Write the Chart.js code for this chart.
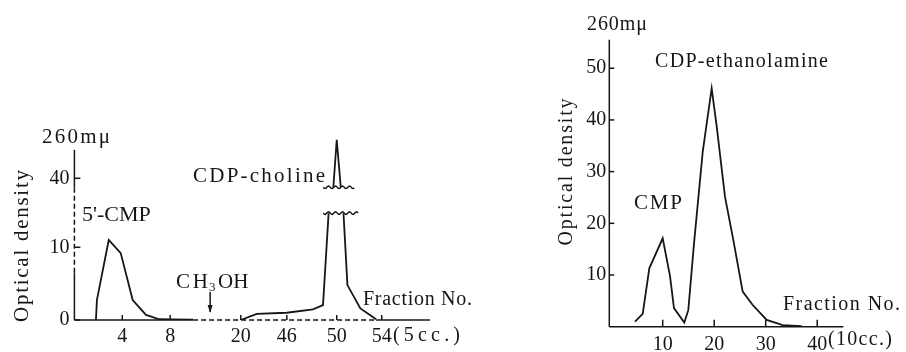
<!DOCTYPE html>
<html>
<head>
<meta charset="utf-8">
<script src="https://cdn.jsdelivr.net/npm/chart.js@4.4.0/dist/chart.umd.min.js"></script>
<style>
  html, body { margin: 0; padding: 0; background: #fff; }
  #wrap { position: relative; width: 906px; height: 352px; overflow: hidden; }
  .box { position: absolute; top: 0; height: 352px; }
  #leftBox { left: 0; width: 540px; }
  #rightBox { left: 540px; width: 366px; }
</style>
</head>
<body>
<div id="wrap">
  <div class="box" id="leftBox"><canvas id="cholineChart"></canvas></div>
  <div class="box" id="rightBox"><canvas id="ethanolamineChart"></canvas></div>
</div>
<script>
// ---- left figure: 5'-CMP / CDP-choline (5 cc fractions), both axes broken ----
const cholineFrac = [1.8, 1.88, 2.87, 3.87, 4.87, 5.98, 7.09, 8.0, 11.9, 16, 20, 29, 45.9, 48.1, 48.9, 49.35, 50, 50.6, 50.95, 52.1, 53.5];
const cholineOD   = [0, 2.75, 11.0, 9.2, 2.75, 0.7, 0.1, 0.07, 0.05, null, 0, 0.83, 1.0, 1.47, 2.06, 14.7, null, 14.7, 4.8, 1.6, 0.1];
// top of the CDP-choline peak, drawn above the break
const peakFrac = [49.73, 50.0, 50.36];
const peakOD   = [38.76, 45.3, 38.76];

const leftXTicks = [4, 8, 20, 46, 50, 54];
const leftYTicks = [0, 10, 40];

// broken axes: real value -> position along the drawn axis
const xRealKnots = [0, 8, 20, 46, 50, 54];
const xAxisKnots = [0, 8.1, 14.07, 17.97, 22.19, 26.0];
const yRealKnots = [0, 14.7, 38.76, 60];
const yAxisKnots = [0, 14.7, 18.25, 39.49];

// ---- right figure: CMP / CDP-ethanolamine (10 cc fractions) ----
const ethFrac = [4.62, 6.12, 7.4, 10.0, 11.42, 12.19, 14.19, 14.97, 16.08, 17.77, 19.51, 20.49, 22.1, 23.71, 25.53, 27.48, 30.19, 33.3, 36.99];
const ethOD   = [1.0, 2.5, 11.3, 17.1, 9.8, 3.6, 0.8, 3.2, 16.1, 33.8, 46.1, 38.7, 25.1, 16.8, 6.8, 4.2, 1.3, 0.3, 0.1];

const rightXTicks = [10, 20, 30, 40];
const rightYTicks = [10, 20, 30, 40, 50];

const INK = '#161616';
const SERIF = '"Liberation Serif", "DejaVu Serif", serif';

function interp(v, from, to) {
    let i = 1;
    while (i < from.length - 1 && v > from[i]) i++;
    const t = (v - from[i - 1]) / (from[i] - from[i - 1]);
    return to[i - 1] + t * (to[i] - to[i - 1]);
}
const bx = v => interp(v, xRealKnots, xAxisKnots);
const by = v => interp(v, yRealKnots, yAxisKnots);

// text stretched to the width it has in the print
function fitText(ctx, text, x, y, width, size) {
    ctx.save();
    ctx.font = size + 'px ' + SERIF;
    ctx.fillStyle = INK;
    ctx.textBaseline = 'middle';
    ctx.textAlign = 'left';
    const w = ctx.measureText(text).width;
    const sp = Math.max(0, (width - w) / (text.length - 1));
    if ('letterSpacing' in ctx) {
        ctx.letterSpacing = sp + 'px';
        ctx.fillText(text, x, y);
    } else {
        let cx = x;
        for (const ch of text) { ctx.fillText(ch, cx, y); cx += ctx.measureText(ch).width + sp; }
    }
    ctx.restore();
}
function vText(ctx, text, cx, cy, width, size) {
    ctx.save();
    ctx.translate(cx, cy);
    ctx.rotate(-Math.PI / 2);
    fitText(ctx, text, -width / 2, 0, width, size);
    ctx.restore();
}
function line(ctx, x0, y0, x1, y1, dash) {
    ctx.save();
    ctx.strokeStyle = INK;
    ctx.lineWidth = 1.5;
    ctx.setLineDash(dash || []);
    ctx.beginPath();
    ctx.moveTo(x0, y0);
    ctx.lineTo(x1, y1);
    ctx.stroke();
    ctx.restore();
}
function wave(ctx, x0, x1, y) {
    ctx.save();
    ctx.strokeStyle = INK;
    ctx.lineWidth = 1.4;
    ctx.beginPath();
    for (let x = x0; x <= x1; x += 1) {
        const yy = y + 1.3 * Math.sin((x - x0) / 7 * 2 * Math.PI);
        if (x === x0) ctx.moveTo(x, yy); else ctx.lineTo(x, yy);
    }
    ctx.stroke();
    ctx.restore();
}

function axisScales(o) {
    return {
        x: {
            type: 'linear', min: o.xMin, max: o.xMax,
            grid: { display: false, drawTicks: false }, border: { display: false },
            afterBuildTicks: s => { s.ticks = o.xTicks.map(v => ({ value: o.mapX(v) })); },
            afterFit: s => { s.height = o.xHeight; },
            ticks: {
                autoSkip: false, maxRotation: 0, padding: o.xPad, color: INK,
                font: { family: SERIF, size: 20 },
                callback: (v, i) => String(o.xTicks[i])
            }
        },
        y: {
            type: 'linear', min: o.yMin, max: o.yMax,
            grid: { display: false, drawTicks: false }, border: { display: false },
            afterBuildTicks: s => { s.ticks = o.yTicks.map(v => ({ value: o.mapY(v) })); },
            afterFit: s => { s.width = o.yWidth; },
            ticks: {
                autoSkip: false, padding: o.yPad, color: INK,
                font: { family: SERIF, size: 20 },
                callback: (v, i) => String(o.yTicks[i])
            }
        }
    };
}

const lineStyle = { borderColor: INK, borderWidth: 1.8, pointRadius: 0, tension: 0, fill: false, spanGaps: false };

// left chart
const leftPaper = {
    id: 'leftPaper',
    afterDraw(chart) {
        const ctx = chart.ctx, xs = chart.scales.x, ys = chart.scales.y;
        const x0 = xs.getPixelForValue(0), y0 = ys.getPixelForValue(0);
        const xp = f => xs.getPixelForValue(bx(f));
        const yp = v => ys.getPixelForValue(by(v));
        // y axis: solid, dashed stretch, solid
        const yTop = ys.getPixelForValue(23.4);
        line(ctx, x0, yTop, x0, ys.getPixelForValue(18.2));
        line(ctx, x0, ys.getPixelForValue(18.2), x0, ys.getPixelForValue(6.5), [5, 3]);
        line(ctx, x0, ys.getPixelForValue(6.5), x0, y0);
        // base line
        const xEnd = chart.chartArea.right;
        line(ctx, x0, y0, xp(11.9), y0);
        line(ctx, xp(11.9), y0, xp(53.5), y0, [5, 3]);
        line(ctx, xp(53.5), y0, xEnd, y0);
        leftXTicks.forEach(f => line(ctx, xp(f), y0, xp(f), y0 - 5));
        leftYTicks.forEach(v => line(ctx, x0, yp(v), x0 + 6, yp(v)));
        // break marks on the CDP-choline peak
        wave(ctx, xp(48.92), xp(51.6), yp(38.76));
        wave(ctx, xp(48.92), xp(51.93), yp(14.7));
        // methanol arrow
        const ax = xp(14.8);
        line(ctx, ax, 292, ax, 312);
        ctx.save();
        ctx.fillStyle = INK;
        ctx.beginPath();
        ctx.moveTo(ax - 2.5, 305); ctx.lineTo(ax + 2.5, 305); ctx.lineTo(ax, 313); ctx.closePath();
        ctx.fill();
        ctx.restore();
        // texts
        fitText(ctx, '260m\u03bc', 42, 137, 68, 21);
        vText(ctx, 'Optical density', 22, 246, 152, 21);
        fitText(ctx, "5'-CMP", 82, 215, 65, 22);
        fitText(ctx, 'CDP-choline', 193, 176, 132, 21);
        fitText(ctx, 'CH', 176, 282, 32, 21);
        fitText(ctx, '3', 209, 288, 7, 13);
        fitText(ctx, 'OH', 218, 282, 29, 21);
        fitText(ctx, 'Fraction No.', 363, 300, 109, 20);
        fitText(ctx, '(5cc.)', 393, 336, 67, 20);
    }
};

new Chart(document.getElementById('cholineChart').getContext('2d'), {
    type: 'line',
    data: {
        datasets: [{
            ...lineStyle,
            data: cholineFrac.map((f, i) => ({ x: bx(f), y: cholineOD[i] === null ? null : by(cholineOD[i]) }))
        }, {
            ...lineStyle,
            data: peakFrac.map((f, i) => ({ x: bx(f), y: by(peakOD[i]) }))
        }]
    },
    options: {
        responsive: true,
        maintainAspectRatio: false,
        animation: false,
        layout: { padding: { top: 130, right: 110, left: 0, bottom: 0 } },
        plugins: { legend: { display: false }, tooltip: { enabled: false } },
        scales: axisScales({
            xMin: 0, xMax: 30.08, yMin: 0, yMax: 26.13,
            xTicks: leftXTicks, yTicks: leftYTicks, mapX: bx, mapY: by,
            xHeight: 32, yWidth: 74.4, xPad: 5, yPad: 5
        })
    },
    plugins: [leftPaper]
});

// right chart
const rightPaper = {
    id: 'rightPaper',
    afterDraw(chart) {
        const ctx = chart.ctx, xs = chart.scales.x, ys = chart.scales.y;
        const a = chart.chartArea;
        line(ctx, a.left, a.top, a.left, a.bottom);
        line(ctx, a.left, a.bottom, a.right, a.bottom);
        rightXTicks.forEach(f => line(ctx, xs.getPixelForValue(f), a.bottom, xs.getPixelForValue(f), a.bottom - 7));
        rightYTicks.forEach(v => line(ctx, a.left, ys.getPixelForValue(v), a.left + 5, ys.getPixelForValue(v)));
        fitText(ctx, '260m\u03bc', 47, 25, 60, 20);
        vText(ctx, 'Optical density', 27, 172, 147, 20);
        fitText(ctx, 'CDP-ethanolamine', 115, 62, 173, 20);
        fitText(ctx, 'CMP', 94, 203, 48, 21);
        fitText(ctx, 'Fraction No.', 243, 305, 117, 20);
        fitText(ctx, '(10cc.)', 288, 340, 64, 20);
    }
};

new Chart(document.getElementById('ethanolamineChart').getContext('2d'), {
    type: 'line',
    data: {
        datasets: [{
            ...lineStyle,
            data: ethFrac.map((f, i) => ({ x: f, y: ethOD[i] }))
        }]
    },
    options: {
        responsive: true,
        maintainAspectRatio: false,
        animation: false,
        layout: { padding: { top: 39.8, right: 62.7, left: 0, bottom: 0 } },
        plugins: { legend: { display: false }, tooltip: { enabled: false } },
        scales: axisScales({
            xMin: -0.37, xMax: 45.07, yMin: 0, yMax: 55.5,
            xTicks: rightXTicks, yTicks: rightYTicks, mapX: v => v, mapY: v => v,
            xHeight: 25.3, yWidth: 69.3, xPad: 6, yPad: 3
        })
    },
    plugins: [rightPaper]
});
</script>
</body>
</html>
